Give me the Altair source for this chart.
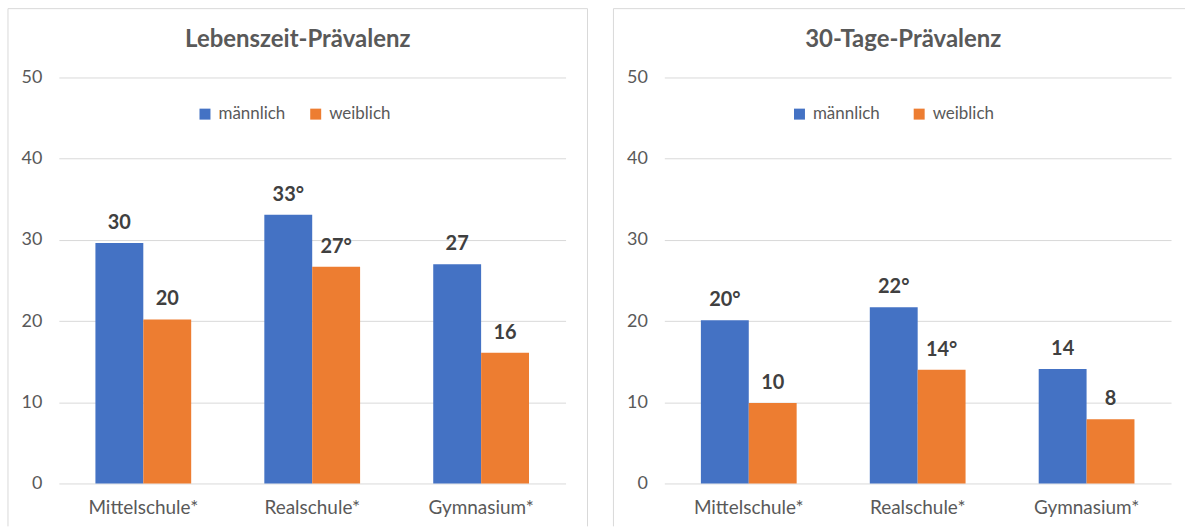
import altair as alt
import pandas as pd

# Schulart categories and the two sex groups
schulen = ["Mittelschule*", "Realschule*", "Gymnasium*"]
geschlecht = ["männlich", "weiblich"]

# Lebenszeit-Prävalenz (%)
lebenszeit_m = [29.6, 33.1, 27.0]
lebenszeit_w = [20.2, 26.7, 16.1]
lebenszeit_m_sig = ["", "°", ""]
lebenszeit_w_sig = ["", "°", ""]

# 30-Tage-Prävalenz (%)
tage30_m = [20.1, 21.7, 14.1]
tage30_w = [9.9, 14.0, 7.9]
tage30_m_sig = ["°", "°", ""]
tage30_w_sig = ["", "°", ""]

y_ticks = [0, 10, 20, 30, 40, 50]

FONT = "Lato"
GREY = "#595959"
LINE = "#d9d9d9"
COLORS = ["#4472C4", "#ED7D31"]

W, H = 508, 407


def table(m, w, msig, wsig):
    rows = []
    for i, s in enumerate(schulen):
        rows.append({"schule": s, "geschlecht": geschlecht[0], "wert": m[i], "sig": msig[i]})
        rows.append({"schule": s, "geschlecht": geschlecht[1], "wert": w[i], "sig": wsig[i]})
    return pd.DataFrame(rows)


def panel(title, m, w, msig, wsig, legend_x, col_pad, right_edge):
    df = table(m, w, msig, wsig)
    base = alt.Chart(df).encode(
        x=alt.X(
            "schule:N",
            sort=schulen,
            title=None,
            scale=alt.Scale(paddingInner=0.433, paddingOuter=0.2165),
            axis=alt.Axis(
                labelAngle=0, domain=False, ticks=False, labelPadding=15,
                labelFont=FONT, labelFontSize=19, labelColor=GREY,
            ),
        ),
        xOffset=alt.XOffset("geschlecht:N", sort=geschlecht, scale=alt.Scale(paddingInner=0)),
    )
    bars = base.mark_bar().encode(
        y=alt.Y(
            "wert:Q",
            title=None,
            scale=alt.Scale(domain=[0, 50], nice=False),
            axis=alt.Axis(
                values=y_ticks, domain=False, ticks=False, labelPadding=17,
                gridColor=LINE, gridWidth=1,
                labelFont=FONT, labelFontSize=18, labelColor=GREY,
            ),
        ),
        color=alt.Color(
            "geschlecht:N",
            sort=geschlecht,
            scale=alt.Scale(domain=geschlecht, range=COLORS),
            legend=alt.Legend(
                title=None, orient="none", direction="horizontal",
                legendX=legend_x, legendY=28, padding=0,
                symbolType="square", symbolSize=121, symbolStrokeWidth=0,
                labelFont=FONT, labelFontSize=17, labelColor=GREY,
                labelOffset=5, columnPadding=col_pad,
            ),
        ),
    )
    labels = base.mark_text(
        font=FONT, fontSize=20, fontWeight="bold", color="#404040",
        baseline="alphabetic", dy=-14,
    ).transform_calculate(
        txt="format(datum.wert, '.0f') + datum.sig"
    ).encode(
        y="wert:Q",
        text="txt:N",
    )

    one = alt.Data(values=[{}])
    frame_style = dict(color=LINE, strokeWidth=1)
    left_rule = alt.Chart(one).mark_rule(**frame_style).encode(
        x=alt.value(-51), y=alt.value(-69), y2=alt.value(450)
    )
    top_rule = alt.Chart(one).mark_rule(**frame_style).encode(
        x=alt.value(-51), x2=alt.value(right_edge), y=alt.value(-69)
    )
    layers = [left_rule, top_rule]
    if right_edge == W + 22:
        layers.append(
            alt.Chart(one).mark_rule(**frame_style).encode(
                x=alt.value(right_edge), y=alt.value(-69), y2=alt.value(450)
            )
        )
    heading = alt.Chart(one).mark_text(
        text=title, font=FONT, fontSize=24, fontWeight="bold", color=GREY,
        align="center", baseline="alphabetic",
    ).encode(x=alt.value(239.5), y=alt.value(-31))

    return alt.layer(*layers, bars, labels, heading).properties(width=W, height=H)


left = panel("Lebenszeit-Prävalenz", lebenszeit_m, lebenszeit_w,
             lebenszeit_m_sig, lebenszeit_w_sig, 138, 21, W + 22)
right = panel("30-Tage-Prävalenz", tage30_m, tage30_w,
              tage30_m_sig, tage30_w_sig, 127, 30, 522)

chart = (
    alt.hconcat(left, right, spacing=24)
    .resolve_scale(color="independent")
    .resolve_legend(color="independent")
    .properties(padding={"left": 7, "top": 7, "right": 0, "bottom": 0}, background="white")
    .configure_view(strokeWidth=0)
)

chart.save("out.html", embed_options={"renderer": "svg", "actions": False})
